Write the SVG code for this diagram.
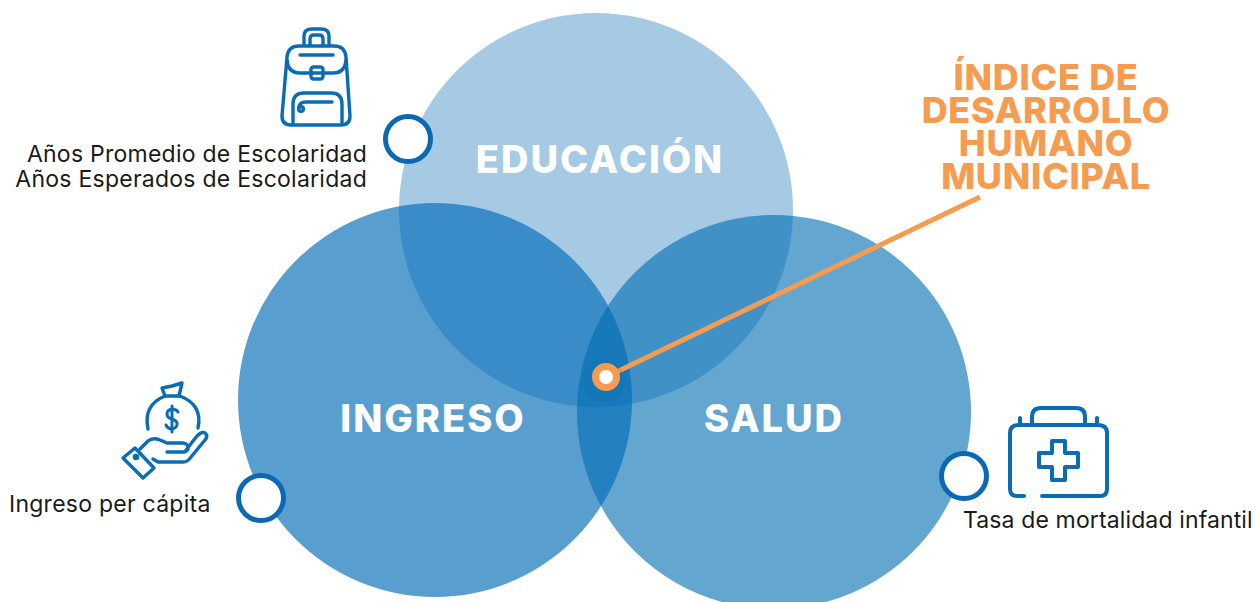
<svg xmlns="http://www.w3.org/2000/svg" width="1255" height="602" viewBox="0 0 1255 602">
<style>
.big{font-family:Inter,"Liberation Sans",sans-serif;font-weight:800;font-size:38px;letter-spacing:2px;fill:#fff;text-anchor:middle}
.t{font-family:Inter,"Liberation Sans",sans-serif;font-size:23px;letter-spacing:.25px;fill:#1a1a1a}
.o{font-family:Inter,"Liberation Sans",sans-serif;font-weight:800;font-size:36px;letter-spacing:.7px;fill:#f59c50;text-anchor:middle}
.ring{fill:#fff;stroke:#0a69b2;stroke-width:5}
.ic{fill:none;stroke:#0a6cb4;stroke-width:3.4;stroke-linecap:round;stroke-linejoin:round}
</style>
<rect width="1255" height="602" fill="#fff"/>
<g id="educacion"><circle cx="596" cy="210" r="197" fill="#0064b1" fill-opacity=".35"/><text class="big" x="600" y="173">EDUCACIÓN</text></g>
<g id="ingreso"><circle cx="435" cy="400" r="197" fill="#006cb7" fill-opacity=".655"/><text class="big" x="433" y="432">INGRESO</text></g>
<g id="salud"><circle cx="774" cy="412" r="197" fill="#006eb2" fill-opacity=".61"/><text class="big" x="774" y="432">SALUD</text></g>
<g id="connectors"><path d="M606 377L980 197" fill="none" stroke="#f59c50" stroke-width="5"/></g>
<g id="idhm"><circle cx="604" cy="381" r="21" fill="#0b5fa5" fill-opacity=".12"/><circle cx="606" cy="377" r="10.5" fill="#fff" stroke="#f59c50" stroke-width="7"/>
<text class="o"><tspan x="1046" y="90">ÍNDICE DE</tspan><tspan x="1046" y="123">DESARROLLO</tspan><tspan x="1046" y="156">HUMANO</tspan><tspan x="1046" y="189">MUNICIPAL</tspan></text></g>
<g id="nodo-educacion"><circle class="ring" cx="408" cy="139" r="22.5"/>
<text class="t" text-anchor="end"><tspan x="367" y="162">Años Promedio de Escolaridad</tspan><tspan x="367" y="187">Años Esperados de Escolaridad</tspan></text>
<g class="ic"><path d="M304 45V36Q304 29 312 29H321Q329 29 329 36V45M310 45V39Q310 35 314 35H319Q323 35 323 39V45"/><path d="M299 46H334Q345 46 346 57L350 116Q350 125 341 125H291Q282 125 282 116L287 57Q288 46 299 46Z"/><path d="M287 60Q288 73 300 73H333Q345 73 346 60"/><rect x="311" y="67" width="12" height="12" rx="2.5"/><path d="M300 55H333"/><path d="M293 124V104Q293 93 304 93H331Q342 93 342 104V124"/><path d="M332 102H306Q299 102 299 108"/><circle cx="301" cy="109" r="2.4"/></g></g>
<g id="nodo-ingreso"><circle class="ring" cx="261" cy="498" r="22.5"/>
<text class="t" x="9" y="512">Ingreso per cápita</text>
<g class="ic"><path d="M148 429Q143 405 165 396H180Q203 405 198 428"/><path d="M165 396L162 388L172 386L182 383L179 396"/><path d="M178 412Q176 409 172 409Q167 410 167 414Q167 418 172 419Q178 421 177 425Q176 429 171 429Q167 428 166 425M172 406V432" stroke-width="3"/><path d="M140 449L148 441Q153 437 160 440L167 443H183Q189 444 188 449Q187 452 183 452H167"/><path d="M186 450L197 436Q203 430 206 434Q208 437 205 440L191 457Q188 462 183 462H158L153 459"/><path d="M123 458L135 448L154 468L143 478Z"/><circle cx="136" cy="457" r="1.6"/></g></g>
<g id="nodo-salud"><circle class="ring" cx="964" cy="476" r="22.5"/>
<text class="t" x="963" y="528" style="letter-spacing:.13px">Tasa de mortalidad infantil</text>
<g class="ic" style="stroke-width:4"><path d="M1024 496H1017Q1010 496 1010 489V433Q1010 425 1019 425H1098Q1107 425 1107 433V489Q1107 496 1100 496H1042"/><path d="M1032 424V417Q1032 408 1041 408H1076Q1085 408 1085 417V424M1020 424V418M1097 424V418"/><path d="M1052 441H1065V453H1078V467H1065V480H1052V467H1039V453H1052Z"/></g></g>
</svg>
